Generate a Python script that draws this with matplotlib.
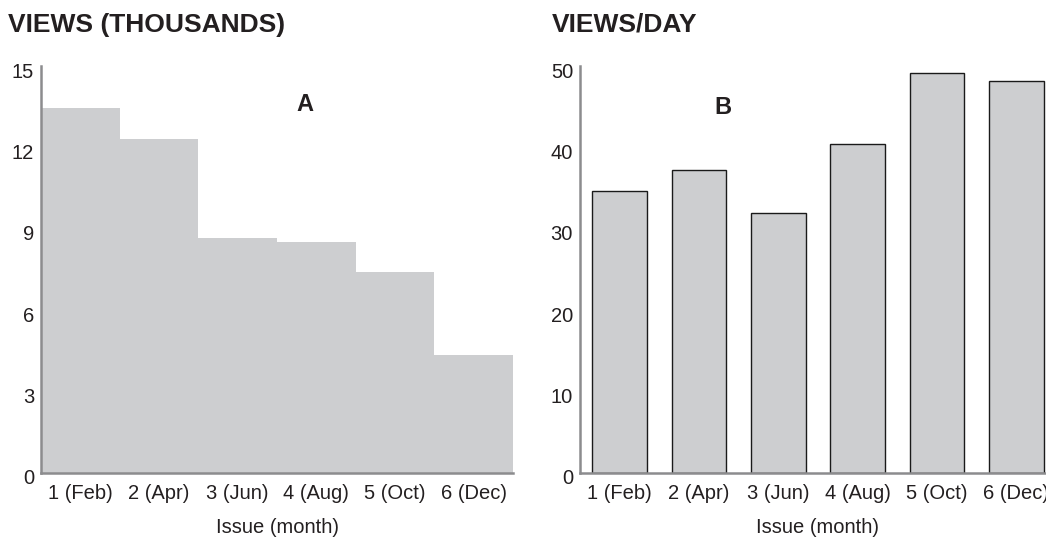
import numpy as np
from matplotlib import pyplot as plt
from matplotlib import transforms

plt.rcParams['font.family'] = ['Liberation Sans', 'DejaVu Sans']

issues = ['1 (Feb)', '2 (Apr)', '3 (Jun)', '4 (Aug)', '5 (Oct)', '6 (Dec)']
views_thousands = [13.45, 12.3, 8.65, 8.5, 7.4, 4.35]
views_per_day = [34.6, 37.2, 32.0, 40.4, 49.1, 48.2]

bar_grey = '#cdced0'
spine_grey = '#8c8c8e'
text_col = '#231f20'

fig = plt.figure(figsize=(10.46, 5.39), dpi=100)

ax1 = fig.add_axes([41 / 1046, 66 / 539, 472 / 1046, 407 / 539])
ax2 = fig.add_axes([580 / 1046, 66 / 539, 476 / 1046, 407 / 539])

x = np.arange(1, len(issues) + 1)

ax1.bar(x, views_thousands, width=1.0, color=bar_grey, linewidth=0)
ax2.bar(x, views_per_day, width=0.69, color=bar_grey, edgecolor='#1a1a1a', linewidth=1.0)

ax1.set_ylim(0, 15)
ax1.set_yticks([0, 3, 6, 9, 12, 15])
ax2.set_ylim(0, 50)
ax2.set_yticks([0, 10, 20, 30, 40, 50])

# y tick labels sit a little below their tick value in the original
shift_down = transforms.ScaledTranslation(0, -4 / 100, fig.dpi_scale_trans)

for ax in (ax1, ax2):
    ax.set_xlim(0.5, 6.5)
    ax.set_xticks(x)
    ax.set_xticklabels(issues)
    ax.spines['top'].set_visible(False)
    ax.spines['right'].set_visible(False)
    ax.spines['left'].set_color(spine_grey)
    ax.spines['bottom'].set_color(spine_grey)
    ax.spines['left'].set_linewidth(1.8)
    ax.spines['bottom'].set_linewidth(1.8)
    ax.tick_params(axis='x', length=0, pad=8, labelsize=14.5, labelcolor=text_col)
    ax.tick_params(axis='y', length=0, pad=5, labelsize=14.5, labelcolor=text_col)
    for lbl in ax.get_yticklabels():
        lbl.set_transform(lbl.get_transform() + shift_down)
    ax.set_xlabel('Issue (month)', fontsize=14.5, color=text_col, labelpad=11)

ax1.text(0.56, 0.905, 'A', transform=ax1.transAxes, fontsize=17, fontweight='bold',
         color=text_col, ha='center', va='center')
ax2.text(0.30, 0.898, 'B', transform=ax2.transAxes, fontsize=17, fontweight='bold',
         color=text_col, ha='center', va='center')

fig.text(8 / 1046, 1 - 25 / 539, 'VIEWS (THOUSANDS)', fontsize=19, fontweight='bold',
         color=text_col, ha='left', va='center')
fig.text(552 / 1046, 1 - 25 / 539, 'VIEWS/DAY', fontsize=19, fontweight='bold',
         color=text_col, ha='left', va='center')

fig.savefig('out.png', dpi=100)
